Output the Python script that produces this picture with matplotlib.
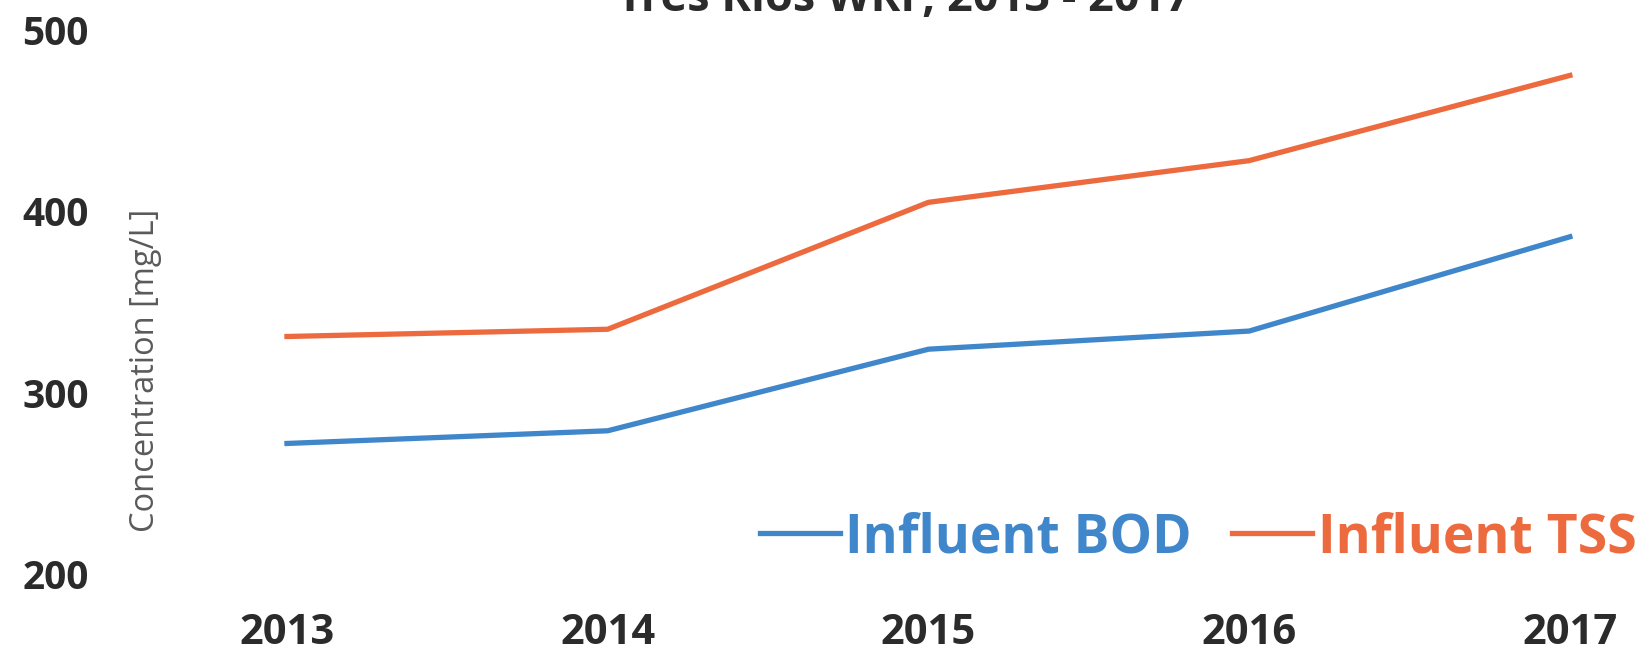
import matplotlib.pyplot as plt

# Data
years = [2013, 2014, 2015, 2016, 2017]
bod = [272, 279, 324, 334, 386]
tss = [331, 335, 405, 428, 475]
yticks = [200, 300, 400, 500]

blue = '#3F87CA'
orange = '#EC6A3E'
dark = '#2B2B2B'

fig = plt.figure(figsize=(16.47, 6.69), dpi=100)
ax = fig.add_axes([100 / 1647, 0.142, 1500 / 1647, 0.813])

ax.plot(years, bod, color=blue, linewidth=3.8, label='Influent BOD')
ax.plot(years, tss, color=orange, linewidth=3.8, label='Influent TSS')

ax.set_xlim(2012.417, 2017.094)
ax.set_ylim(200, 500)
ax.set_xticks(years)
ax.set_yticks(yticks)

for s in ax.spines.values():
    s.set_visible(False)
ax.tick_params(length=0)
ax.tick_params(axis='x', pad=28)
ax.tick_params(axis='y', pad=8)
for lab in ax.get_xticklabels():
    lab.set_fontsize(30)
    lab.set_fontweight('bold')
    lab.set_color(dark)
    lab.set_family('Open Sans')
for lab in ax.get_yticklabels():
    lab.set_fontsize(28)
    lab.set_fontweight('bold')
    lab.set_color(dark)
    lab.set_family('Open Sans')

ax.set_ylabel('Concentration [mg/L]', fontsize=23.5, color='#5A5A5A',
              family='Open Sans')
ax.yaxis.set_label_coords(0.041, 0.375)

# Title partly cut off by the top edge in the original
fig.text(0.549, 0.983, 'Tres Rios WRF, 2013 - 2017', ha='center', va='baseline',
         fontsize=32.5, fontweight='bold', color=dark, family='Open Sans')

leg = ax.legend(loc='center right', ncol=2, frameon=False, borderpad=0,
                prop={'family': 'Open Sans', 'weight': 'bold', 'size': 38.5},
                handlelength=1.5, handletextpad=0.1, columnspacing=0.75,
                labelcolor='linecolor', bbox_to_anchor=(1.042, 0.066))

plt.savefig('out.png', dpi=100)
